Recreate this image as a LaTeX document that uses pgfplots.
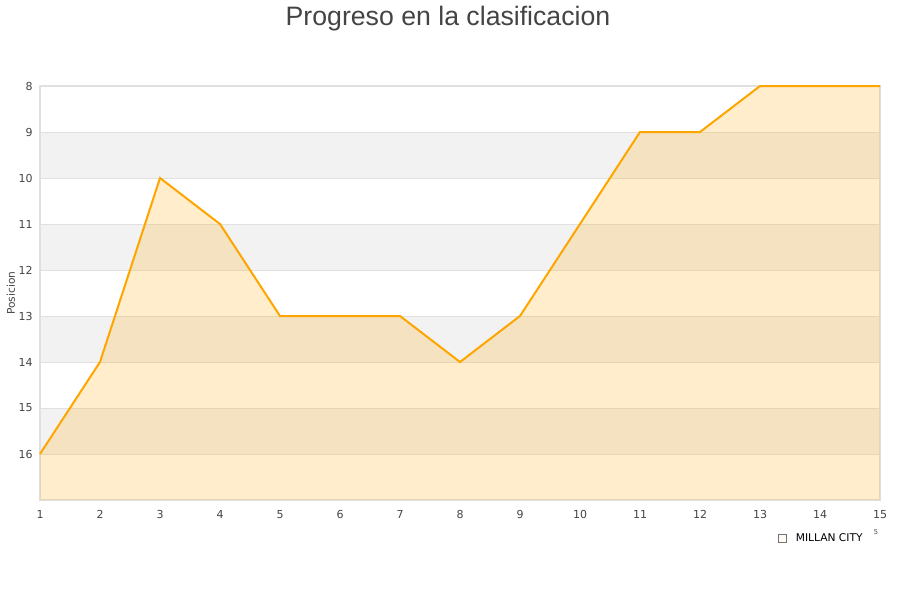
\documentclass[border=0pt]{standalone}
\usepackage{pgfplots}
\pgfplotsset{compat=1.18}
\usepackage{fontspec}
\setmainfont{DejaVu Sans}
\newfontfamily\titlefont{Liberation Sans}
\definecolor{tickgray}{HTML}{444444}
\definecolor{gridgray}{HTML}{E0E0E0}
\definecolor{bandgray}{HTML}{F2F2F2}
\definecolor{lineorange}{HTML}{FFA500}

\begin{document}
\begin{tikzpicture}
\begin{axis}[
  set layers,
  at={(0,0)}, anchor=south west,
  scale only axis,
  width=630pt, height=310.5pt,
  xmin=1, xmax=15, ymin=8, ymax=17,
  y dir=reverse,
  xtick={1,...,15}, ytick={8,...,16},
  major tick length=0pt,
  ymajorgrids, grid style={gridgray, line width=0.6pt},
  axis line style={draw=gridgray, line width=0.8pt},
  tick label style={font=\fontsize{8.25}{9}\selectfont, text=tickgray},
  /pgf/number format/assume math mode=true,
  xticklabel style={anchor=north, text height=6pt, text depth=0pt, yshift=-4pt},
  yticklabel style={xshift=-2pt},
  legend style={at={(rel axis cs:0.878,-0.092)}, anchor=west, draw=none, fill=none,
    font=\fontsize{8}{9}\selectfont, inner sep=0pt},
  legend cell align=left,
  clip=false,
]
% alternating horizontal bands
\addplot[fill=bandgray, draw=none, on layer=axis background, forget plot] coordinates {(1,9) (15,9) (15,10) (1,10)} -- cycle;
\addplot[fill=bandgray, draw=none, on layer=axis background, forget plot] coordinates {(1,11) (15,11) (15,12) (1,12)} -- cycle;
\addplot[fill=bandgray, draw=none, on layer=axis background, forget plot] coordinates {(1,13) (15,13) (15,14) (1,14)} -- cycle;
\addplot[fill=bandgray, draw=none, on layer=axis background, forget plot] coordinates {(1,15) (15,15) (15,16) (1,16)} -- cycle;
% area under the position line
\addplot[fill=lineorange, fill opacity=0.2, draw=none,
  legend image code/.code={\draw[fill=lineorange!25, draw=black!55, line width=0.5pt] (0pt,-3pt) rectangle (6pt,3pt);}]
  coordinates {(1,17) (1,16) (2,14) (3,10) (4,11) (5,13) (6,13) (7,13) (8,14) (9,13) (10,11) (11,9) (12,9) (13,8) (14,8) (15,8) (15,17)} -- cycle;
\addlegendentry{\hspace{5pt}MILLAN CITY}
\addplot[lineorange, line width=1.5pt, forget plot]
  coordinates {(1,16) (2,14) (3,10) (4,11) (5,13) (6,13) (7,13) (8,14) (9,13) (10,11) (11,9) (12,9) (13,8) (14,8) (15,8)};
\end{axis}
\node[rotate=90, font=\fontsize{8}{9}\selectfont, text=tickgray] at (-21.75pt,155.25pt) {Posicion};
\node[font=\titlefont\fontsize{20}{22}\selectfont, text=tickgray] at (306pt,361pt) {Progreso en la clasificacion};
\node[font=\fontsize{5}{6}\selectfont, text=tickgray] at (627pt,-24pt) {5};
\path (-30pt,-75pt) rectangle (645pt,375pt);
\end{tikzpicture}
\end{document}
